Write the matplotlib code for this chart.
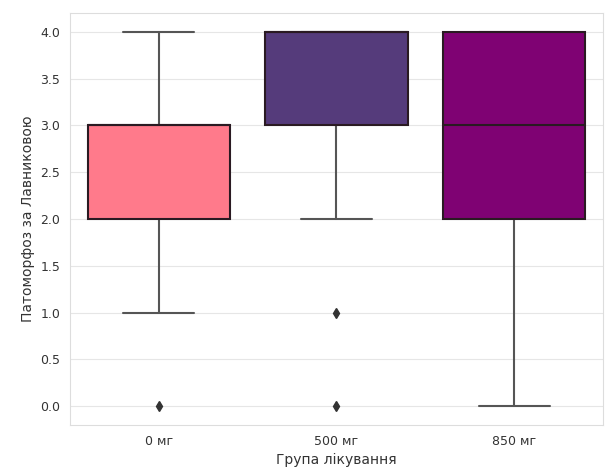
import matplotlib
matplotlib.use('Agg')
import matplotlib.pyplot as plt
import seaborn as sns

groups = ['0 мг', '500 мг', '850 мг']
scores_0 = [0, 1, 2, 2, 2, 3, 3, 3, 3, 3, 3, 4]
scores_500 = [0, 1, 2, 3, 3, 3, 4, 4, 4, 4, 4, 4, 4, 4]
scores_850 = [0, 1, 2, 2, 3, 3, 4, 4, 4, 4]
colors = ['#ff7a8b', '#553b7b', '#7f0273']

sns.set_style('whitegrid')
plt.rcParams['font.family'] = ['DejaVu Sans']

fig = plt.figure(figsize=(6.14, 4.69), dpi=100)
ax = fig.add_axes([0.114, 0.094, 0.868, 0.878])

bp = ax.boxplot([scores_0, scores_500, scores_850], positions=[0, 1, 2], widths=0.8,
                patch_artist=True,
                boxprops=dict(edgecolor='#2a1a22', linewidth=1.5),
                medianprops=dict(color='#2a1a22', linewidth=1.5),
                whiskerprops=dict(color='#555555', linewidth=1.5),
                capprops=dict(color='#555555', linewidth=1.5),
                flierprops=dict(marker='d', markerfacecolor='#333333', markeredgecolor='#333333',
                                markersize=5))
for patch, c in zip(bp['boxes'], colors):
    patch.set_facecolor(c)
    patch.set_zorder(3)
for m in bp['medians']:
    m.set_zorder(4)

ax.set_xticks([0, 1, 2])
ax.set_xticklabels(groups)
ax.set_xlim(-0.5, 2.5)
ax.set_ylim(-0.2, 4.2)
ax.set_yticks([0, 0.5, 1, 1.5, 2, 2.5, 3, 3.5, 4])
ax.set_yticklabels([f'{v:.1f}' for v in [0, 0.5, 1, 1.5, 2, 2.5, 3, 3.5, 4]])
ax.xaxis.grid(False)
ax.yaxis.grid(True, color='#e6e6e6')
ax.tick_params(labelsize=9, colors='#333333')
ax.set_xlabel('Група лікування', fontsize=10, color='#333333')
ax.set_ylabel('Патоморфоз за Лавниковою', fontsize=10, color='#333333')
for s in ax.spines.values():
    s.set_color('#dddddd')

fig.savefig('out.png', dpi=100)
